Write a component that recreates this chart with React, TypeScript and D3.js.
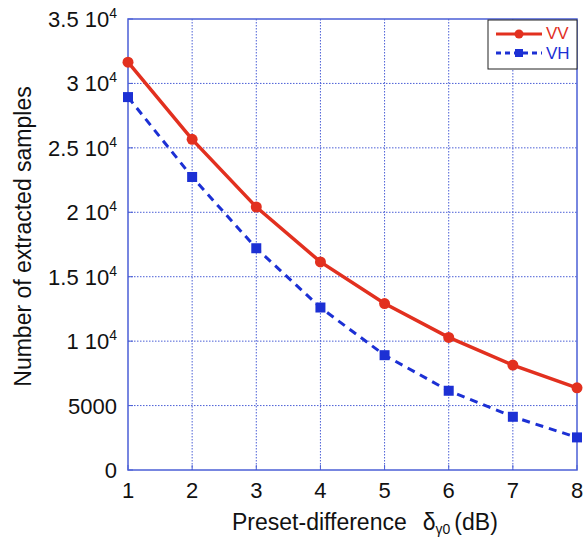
import { useEffect, useRef } from 'react'
import * as d3 from 'd3'

const presetDiff = [1, 2, 3, 4, 5, 6, 7, 8]
const vvSamples = [31650, 25660, 20410, 16150, 12920, 10290, 8140, 6380]
const vhSamples = [28940, 22740, 17210, 12610, 8910, 6150, 4130, 2530]
const yTicks = [0, 5000, 10000, 15000, 20000, 25000, 30000, 35000]
const yTickLabels = ['0', '5000', '1 10', '1.5 10', '2 10', '2.5 10', '3 10', '3.5 10']

export default function App() {
  const svgRef = useRef<SVGSVGElement>(null)

  useEffect(() => {
    if (!svgRef.current) return
    const svg = d3.select(svgRef.current)
    svg.selectAll('*').remove()

    const W = 583
    const H = 542
    const margin = { top: 19, right: 6, bottom: 72, left: 128 }
    const width = W - margin.left - margin.right
    const height = H - margin.top - margin.bottom
    const font = '"Liberation Sans", Arial, Helvetica, sans-serif'
    const red = '#e2301f'
    const blue = '#1c30d4'
    const frame = '#4b5fd6'

    svg.attr('width', W).attr('height', H)
    const g = svg.append('g').attr('transform', `translate(${margin.left},${margin.top})`)

    const x = d3.scaleLinear().domain([1, 8]).range([0, width])
    const y = d3.scaleLinear().domain([0, 35000]).range([height, 0])

    // grid
    g.selectAll('.vgrid')
      .data(presetDiff.slice(1, -1))
      .enter().append('line')
      .attr('x1', d => x(d)).attr('x2', d => x(d))
      .attr('y1', 0).attr('y2', height)
      .attr('stroke', frame).attr('stroke-width', 1)
      .attr('stroke-dasharray', '1.5,1.5')
    g.selectAll('.hgrid')
      .data(yTicks.slice(1, -1))
      .enter().append('line')
      .attr('x1', 0).attr('x2', width)
      .attr('y1', d => y(d)).attr('y2', d => y(d))
      .attr('stroke', frame).attr('stroke-width', 1)
      .attr('stroke-dasharray', '1.5,1.5')

    // frame
    g.append('rect')
      .attr('width', width).attr('height', height)
      .attr('fill', 'none').attr('stroke', frame).attr('stroke-width', 1.5)

    // ticks
    g.selectAll('.xt')
      .data(presetDiff)
      .enter().append('line')
      .attr('x1', d => x(d)).attr('x2', d => x(d))
      .attr('y1', height).attr('y2', height - 5)
      .attr('stroke', frame)
    g.selectAll('.yt')
      .data(yTicks)
      .enter().append('line')
      .attr('x1', 0).attr('x2', 5)
      .attr('y1', d => y(d)).attr('y2', d => y(d))
      .attr('stroke', frame)

    // tick labels
    g.selectAll('.xl')
      .data(presetDiff)
      .enter().append('text')
      .attr('x', d => x(d)).attr('y', height + 28)
      .attr('text-anchor', 'middle')
      .style('font-family', font).style('font-size', '22px').style('fill', '#111')
      .text(d => d)

    const yl = g.selectAll('.yl')
      .data(yTicks)
      .enter().append('text')
      .attr('x', -11).attr('y', d => y(d) + 8)
      .attr('text-anchor', 'end')
      .style('font-family', font).style('font-size', '22px').style('fill', '#111')
    yl.append('tspan').text((d, i) => yTickLabels[i])
    yl.filter(d => d >= 10000)
      .append('tspan')
      .attr('dy', -9).style('font-size', '14px').text('4')

    // lines
    const line = d3.line<number>()
      .x((d, i) => x(presetDiff[i]))
      .y(d => y(d))

    g.append('path').datum(vhSamples)
      .attr('fill', 'none').attr('stroke', blue).attr('stroke-width', 3)
      .attr('stroke-dasharray', '8,6')
      .attr('d', line)
    g.append('path').datum(vvSamples)
      .attr('fill', 'none').attr('stroke', red).attr('stroke-width', 3.5)
      .attr('d', line)

    g.selectAll('.sq')
      .data(vhSamples)
      .enter().append('rect')
      .attr('x', (d, i) => x(presetDiff[i]) - 5)
      .attr('y', d => y(d) - 5)
      .attr('width', 10).attr('height', 10)
      .attr('fill', blue)
    g.selectAll('.dot')
      .data(vvSamples)
      .enter().append('circle')
      .attr('cx', (d, i) => x(presetDiff[i]))
      .attr('cy', d => y(d))
      .attr('r', 5.5)
      .attr('fill', red)

    // legend
    const lg = g.append('g').attr('transform', `translate(${width - 89},1)`)
    lg.append('rect')
      .attr('width', 89).attr('height', 49)
      .attr('fill', 'white').attr('stroke', '#222').attr('stroke-width', 1)
    lg.append('line').attr('x1', 8).attr('x2', 54).attr('y1', 14).attr('y2', 14)
      .attr('stroke', red).attr('stroke-width', 3)
    lg.append('circle').attr('cx', 31).attr('cy', 14).attr('r', 4.5).attr('fill', red)
    lg.append('text').attr('x', 58).attr('y', 19)
      .style('font-family', font).style('font-size', '17px').style('fill', red).text('VV')
    lg.append('line').attr('x1', 8).attr('x2', 54).attr('y1', 33).attr('y2', 33)
      .attr('stroke', blue).attr('stroke-width', 3).attr('stroke-dasharray', '5,4')
    lg.append('rect').attr('x', 27).attr('y', 29).attr('width', 8).attr('height', 8).attr('fill', blue)
    lg.append('text').attr('x', 58).attr('y', 39)
      .style('font-family', font).style('font-size', '17px').style('fill', blue).text('VH')

    // axis titles
    svg.append('text')
      .attr('transform', `translate(31,${margin.top + height / 2 - 8}) rotate(-90)`)
      .attr('text-anchor', 'middle')
      .style('font-family', font).style('font-size', '23px').style('fill', '#111')
      .text('Number of extracted samples')

    const xt = svg.append('text')
      .attr('x', 232).attr('y', 530)
      .style('font-family', font).style('font-size', '23px').style('fill', '#111')
    xt.append('tspan').text('Preset-difference')
    xt.append('tspan').attr('dx', 16).text('δ')
    xt.append('tspan').attr('dy', 4).style('font-size', '14px').text('γ0')
    xt.append('tspan').attr('dy', -4).attr('dx', 4).text('(dB)')
  }, [])

  return (
    <div style={{ position: 'absolute', left: 0, top: 0, background: 'white' }}>
      <svg ref={svgRef} style={{ display: 'block' }}></svg>
    </div>
  )
}
